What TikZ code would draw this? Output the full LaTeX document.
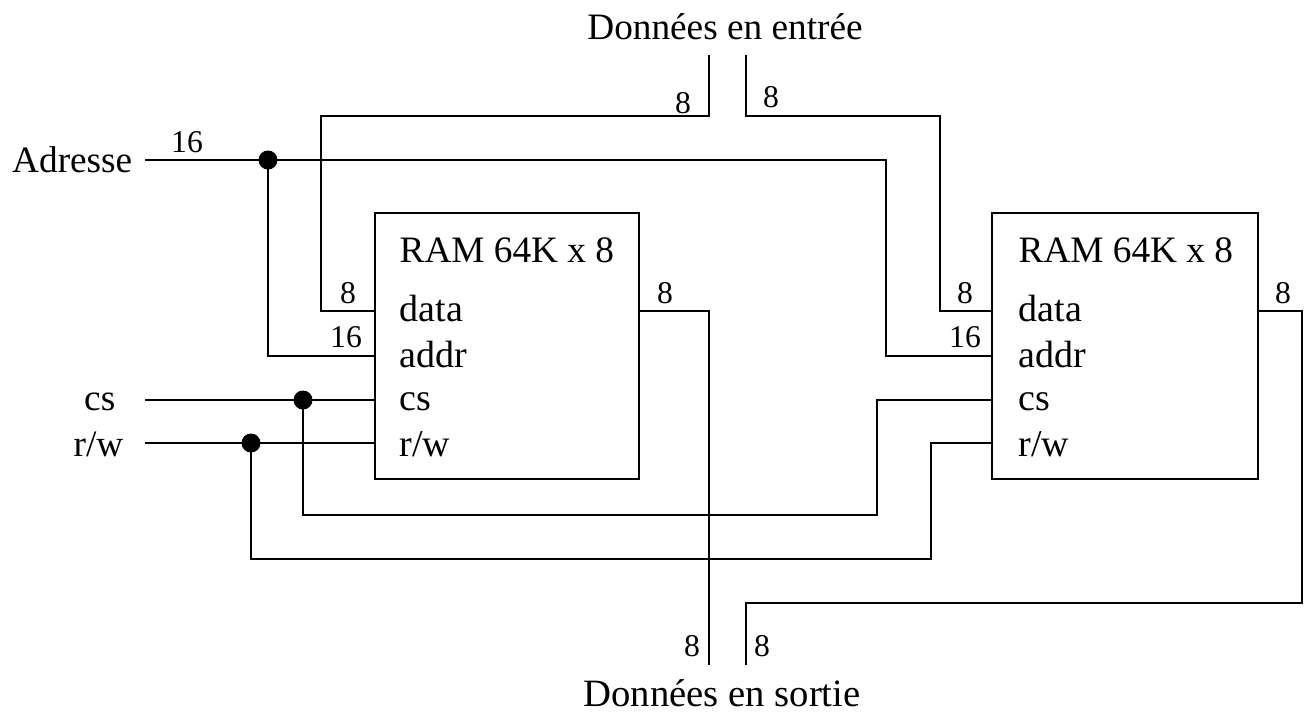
\documentclass[tikz,border=0pt]{standalone}
\usepackage{fontspec}
\setmainfont{Liberation Serif}
\usetikzlibrary{positioning}
\tikzset{
  ram/.style={draw, line width=0.4pt, minimum height=2.66cm, inner sep=0pt},
  wire/.style={line width=0.4pt},
  pin/.style={font=\fontsize{10.8}{12}\selectfont, inner sep=0pt, anchor=west},
  title/.style={font=\fontsize{10.6}{13}\selectfont, inner sep=0pt},
  bits/.style={font=\fontsize{9}{10}\selectfont, inner sep=0pt},
  dot/.style={circle, fill=black, minimum size=0.19cm, inner sep=0pt}
}
\begin{document}
\begin{tikzpicture}[x=0.01cm, y=-0.01cm]
  \useasboundingbox (0,0) rectangle (1306,711);

  % Memory blocks
  \node[ram, minimum width=2.64cm] (ramA) at (507,346) {};
  \node[ram, minimum width=2.66cm] (ramB) at (1125,346) {};
  \node[title, anchor=west] (titleA) at (399,250) {RAM 64K x 8};
  \node[title, anchor=west] (titleB) at (1018,250) {RAM 64K x 8};

  % Pin labels
  \node[pin] (dataA) at (399,308) {data};
  \node[pin] (addrA) at (399,354) {addr};
  \node[pin] (csA) at (399,402) {cs};
  \node[pin] (rwA) at (399,444) {r/w};
  \node[pin] (dataB) at (1018,308) {data};
  \node[pin] (addrB) at (1018,354) {addr};
  \node[pin] (csB) at (1018,402) {cs};
  \node[pin] (rwB) at (1018,444) {r/w};

  % Outside labels
  \node[title] (inLabel) at (725,27) {Données en entrée};
  \node[title, font=\fontsize{11}{13}\selectfont] (outLabel) at (722,693) {Données en sortie};
  \node[title, anchor=east] (adrLabel) at (133,160) {Adresse};
  \node[title, anchor=east] (csLabel) at (116,402) {cs};
  \node[title, anchor=east] (rwLabel) at (124,444) {r/w};

  % Ports on the block edges
  \coordinate (dA) at (ramA.west |- 0,311);
  \coordinate (aA) at (ramA.west |- 0,356);
  \coordinate (cA) at (ramA.west |- 0,400);
  \coordinate (wA) at (ramA.west |- 0,443);
  \coordinate (oA) at (ramA.east |- 0,311);
  \coordinate (dB) at (ramB.west |- 0,311);
  \coordinate (aB) at (ramB.west |- 0,356);
  \coordinate (cB) at (ramB.west |- 0,400);
  \coordinate (wB) at (ramB.west |- 0,443);
  \coordinate (oB) at (ramB.east |- 0,311);

  % Free ends of the buses
  \coordinate (inL) at (709,55);
  \coordinate (inR) at (746,55);
  \coordinate (outL) at (709,665);
  \coordinate (outR) at (746,665);
  \coordinate (adrEnd) at (145,160);
  \coordinate (csEnd) at (145,400);
  \coordinate (rwEnd) at (145,443);

  % Junctions
  \node[dot] (adrDot) at (268,160) {};
  \node[dot] (csDot) at (303,400) {};
  \node[dot] (rwDot) at (251,443) {};

  % Data in
  \draw[wire] (inL) -- (709,116) -- (321,116) -- (321,311) -- (dA);
  \draw[wire] (inR) -- (746,116) -- (940,116) -- (940,311) -- (dB);

  % Address
  \draw[wire] (adrEnd) -- (adrDot.center) -- (886,160) -- (886,356) -- (aB);
  \draw[wire] (adrDot.center) -- (268,356) -- (aA);

  % Control lines
  \draw[wire] (csEnd) -- (csDot.center) -- (cA);
  \draw[wire] (csDot.center) -- (303,515) -- (877,515) -- (877,400) -- (cB);
  \draw[wire] (rwEnd) -- (rwDot.center) -- (wA);
  \draw[wire] (rwDot.center) -- (251,559) -- (931,559) -- (931,443) -- (wB);

  % Data out
  \draw[wire] (oA) -- (709,311) -- (outL);
  \draw[wire] (oB) -- (1302,311) -- (1302,603) -- (746,603) -- (outR);

  % Bus widths
  \node[bits] (w1) at (683,103) {8};
  \node[bits] (w2) at (771,97) {8};
  \node[bits] (w3) at (187,142) {16};
  \node[bits] (w4) at (348,293) {8};
  \node[bits] (w5) at (346,337) {16};
  \node[bits] (w6) at (665,293) {8};
  \node[bits] (w7) at (965,293) {8};
  \node[bits] (w8) at (965,337) {16};
  \node[bits] (w9) at (1283,293) {8};
  \node[bits] (w10) at (692,646) {8};
  \node[bits] (w11) at (762,646) {8};
\end{tikzpicture}
\end{document}
